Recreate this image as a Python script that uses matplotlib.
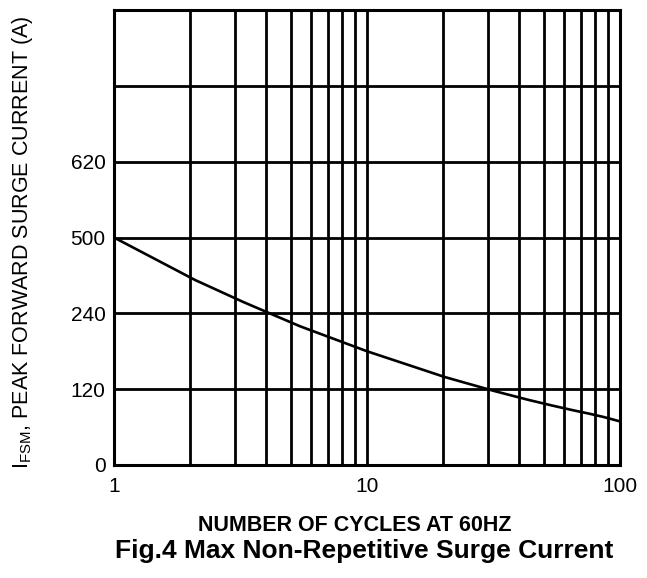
import matplotlib
matplotlib.use("Agg")
import matplotlib.pyplot as plt
from matplotlib.ticker import NullFormatter, LogLocator

plt.rcParams['font.family'] = ['Liberation Sans', 'DejaVu Sans']
plt.rcParams['mathtext.fontset'] = 'custom'
plt.rcParams['mathtext.rm'] = 'Liberation Sans'

# curve: number of cycles vs. position on chart's (non-uniform) current scale
cycles = [1, 2.09, 3.24, 4.33, 5.43, 10.0, 20.3, 31.5, 43.3, 53.8, 64.6, 74.8, 85.7, 100]
current_grid = [3.0, 2.44, 2.15, 1.97, 1.83, 1.50, 1.16, 0.98, 0.86, 0.785, 0.725, 0.68, 0.635, 0.575]

y_tick_pos = [0, 1, 2, 3, 4, 5, 6]
y_tick_labels = ['0', '120', '240', '500', '620', '', '']
x_tick_pos = [1, 10, 100]
x_tick_labels = ['1', '10', '100']

fig = plt.figure(figsize=(6.47, 5.78), dpi=100)
ax = fig.add_axes([114/647, 1-465/578, (620-114)/647, (465-10)/578])

ax.plot(cycles, current_grid, color='black', lw=1.9, zorder=3,
        solid_joinstyle='round')

ax.set_xscale('log')
ax.set_xlim(1, 100)
ax.set_ylim(0, 6)
ax.set_xticks(x_tick_pos)
ax.set_xticklabels(x_tick_labels)
ax.xaxis.set_minor_locator(LogLocator(base=10, subs=range(2, 10)))
ax.xaxis.set_minor_formatter(NullFormatter())
ax.set_yticks(y_tick_pos)
ax.set_yticklabels(y_tick_labels)

ax.grid(which='both', axis='x', color='black', lw=2.0)
ax.grid(which='major', axis='y', color='black', lw=2.0)
ax.tick_params(which='both', length=0)
ax.tick_params(axis='x', pad=9, labelsize=15)
ax.tick_params(axis='y', pad=6, labelsize=15)
for s in ax.spines.values():
    s.set_linewidth(2.2)
    s.set_color('black')

fig.text(23/647, 1-242/578, r'I$_{\mathregular{FSM}}$, PEAK FORWARD SURGE CURRENT (A)',
         rotation=90, ha='center', va='center', fontsize=15.5)
fig.text(355/647, 1-531/578, 'NUMBER OF CYCLES AT 60HZ', ha='center', va='baseline',
         fontsize=15.5, fontweight='bold')
fig.text(364/647, 1-558/578, 'Fig.4 Max Non-Repetitive Surge Current', ha='center',
         va='baseline', fontsize=19, fontweight='bold')

fig.savefig('out.png', dpi=100)
